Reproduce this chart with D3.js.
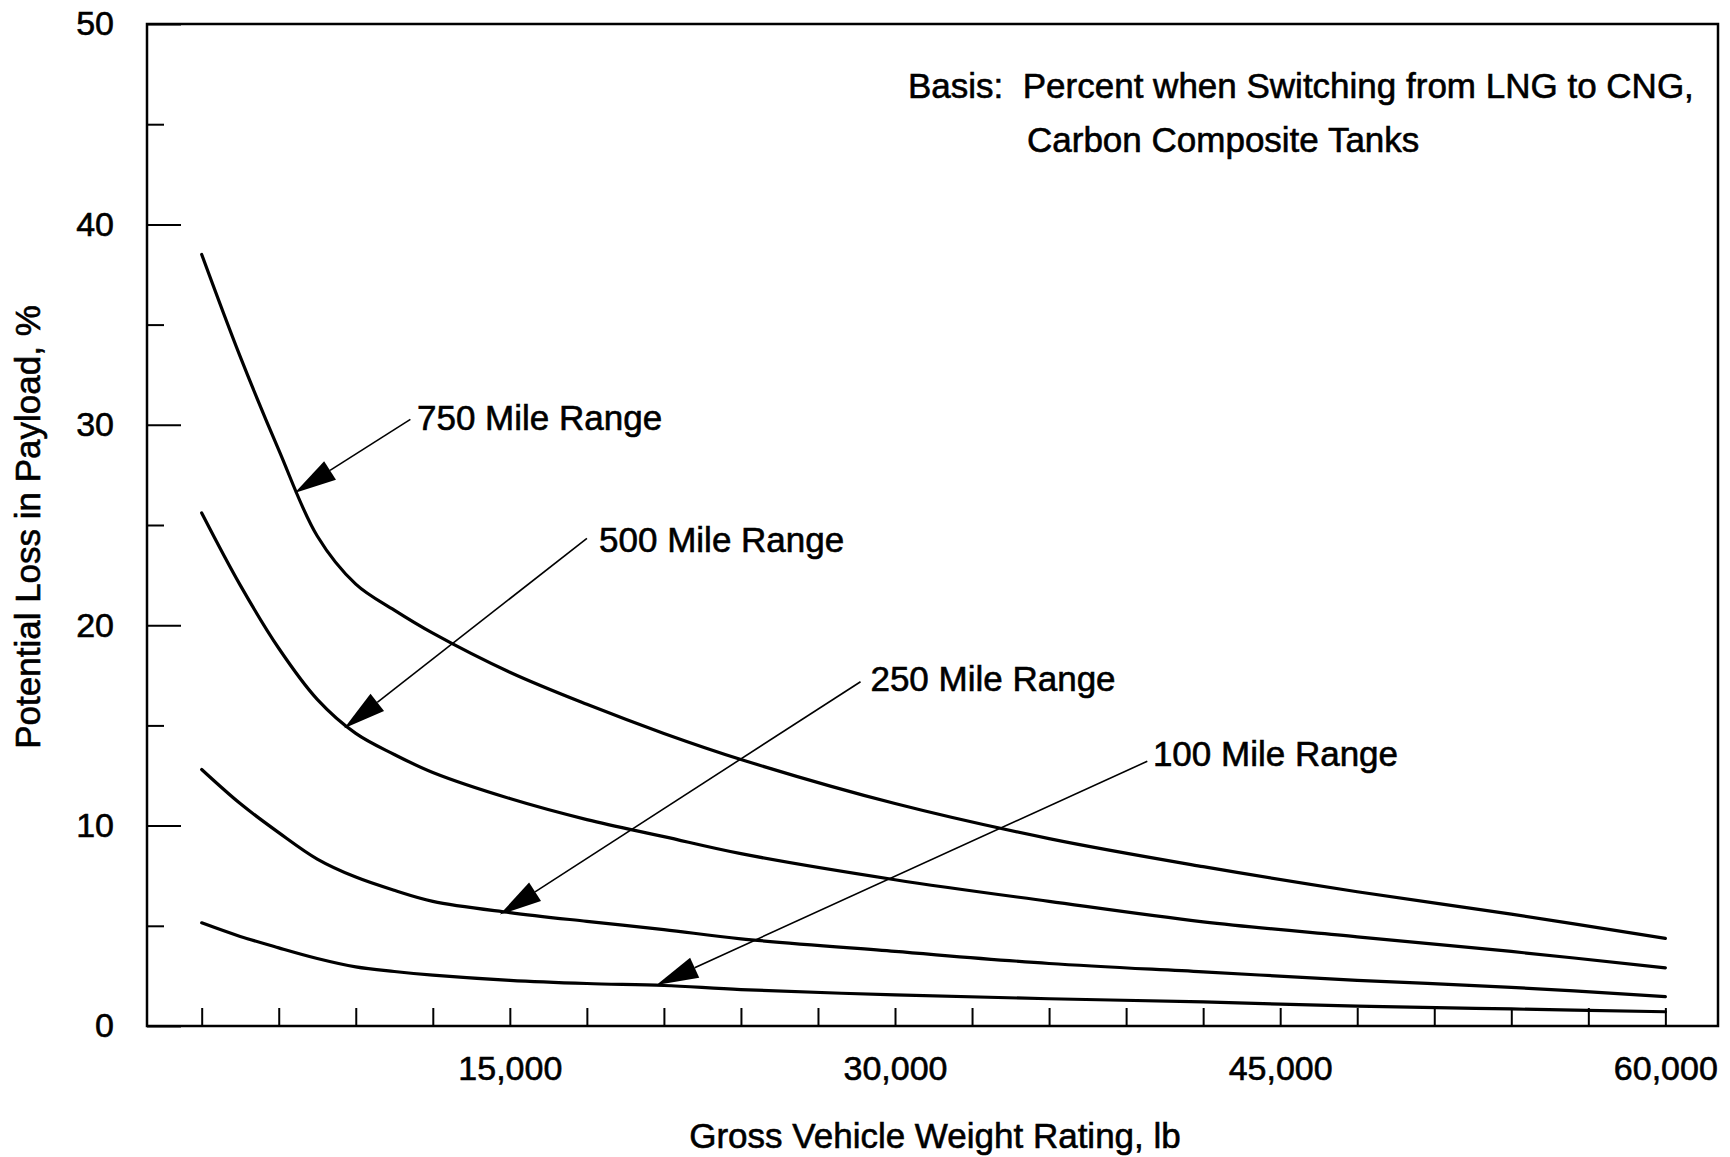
<!DOCTYPE html>
<html>
<head>
<meta charset="utf-8">
<script src="https://cdn.jsdelivr.net/npm/d3@7"></script>
<style>
  body { margin: 0; background: #fff; }
  text { font-family: "Liberation Sans", Arial, sans-serif; fill: #000; stroke: #000; stroke-width: 0.6px; white-space: pre; }
</style>
</head>
<body>
<svg id="chart" width="1730" height="1157"></svg>
<script>
// gross vehicle weight rating, lb
var gvwr = [3000, 4500, 6000, 7500, 9000, 10500, 12000, 15000, 18000, 21000, 24000, 30000, 36000, 42000, 48000, 54000, 60000];

// potential loss in payload, %
var range750 = [38.5, 33.4, 28.75, 24.45, 22.05, 20.75, 19.6, 17.65, 16.05, 14.6, 13.3, 11.1, 9.35, 7.95, 6.7, 5.58, 4.37];
var range500 = [25.6, 22.0, 18.85, 16.3, 14.6, 13.55, 12.65, 11.35, 10.3, 9.45, 8.6, 7.3, 6.22, 5.2, 4.45, 3.72, 2.9];
var range250 = [12.8, 11.1, 9.65, 8.33, 7.43, 6.77, 6.22, 5.66, 5.22, 4.81, 4.35, 3.72, 3.12, 2.7, 2.28, 1.93, 1.47];
var range100 = [5.15, 4.47, 3.9, 3.37, 2.95, 2.72, 2.54, 2.28, 2.12, 2.02, 1.82, 1.55, 1.36, 1.2, 0.99, 0.85, 0.71];
var series = [range750, range500, range250, range100];

// labels and their arrows (data units)
var labels = ["750 Mile Range", "500 Mile Range", "250 Mile Range", "100 Mile Range"];
var labelX = [11384, 18475, 29043, 40043];
var labelY = [30.33, 24.28, 17.34, 13.59];
var arrowX = [11127, 18002, 28657, 39824];
var arrowY = [30.27, 24.33, 17.18, 13.21];
var tipX = [6618, 8549, 14608, 20710];
var tipY = [26.6, 14.86, 5.56, 2.04];

var xMajor = [15000, 30000, 45000, 60000];
var xTicks = d3.range(3000, 60001, 3000);
var yMajor = [0, 10, 20, 30, 40, 50];
var yMinor = [5, 15, 25, 35, 45];

var basisLines = ["Basis:  Percent when Switching from LNG to CNG,", "Carbon Composite Tanks"];

var plotL = 147, plotR = 1718, plotT = 24, plotB = 1026;

var svg = d3.select('#chart');

var x = d3.scaleLinear().domain([870, 62050]).range([plotL, plotR]);
var y = d3.scaleLinear().domain([0, 50]).range([plotB, plotT]);

// y axis, ticks pointing inward
svg.append('g')
	.attr('transform', 'translate(' + plotL + ',0)')
	.call(d3.axisLeft(y).tickValues(yMajor).tickSize(-34).tickPadding(33).tickFormat(d3.format('d')));
svg.append('g')
	.attr('transform', 'translate(' + plotL + ',0)')
	.call(d3.axisLeft(y).tickValues(yMinor).tickSize(-17).tickFormat(''));

// x axis, ticks pointing up
svg.append('g')
	.attr('transform', 'translate(0,' + plotB + ')')
	.call(d3.axisBottom(x).tickValues(xTicks).tickSize(-18).tickPadding(30)
		.tickFormat(function(d) { return xMajor.indexOf(d) >= 0 ? d3.format(',')(d) : ''; }));

svg.selectAll('.domain').remove();
svg.selectAll('.tick line').attr('stroke', '#000').attr('stroke-width', 2);
svg.selectAll('.tick text').style('font-size', '34px').attr('fill', '#000');

// frame
svg.append('rect')
	.attr('x', plotL).attr('y', plotT)
	.attr('width', plotR - plotL).attr('height', plotB - plotT)
	.attr('fill', 'none').attr('stroke', '#000').attr('stroke-width', 2.5);

// curves
var line = d3.line()
	.x(function(d, i) { return x(gvwr[i]); })
	.y(function(d) { return y(d); })
	.curve(d3.curveCatmullRom.alpha(0.5));

svg.selectAll('.curve')
	.data(series)
	.enter()
	.append('path')
	.attr('class', 'curve')
	.attr('d', line)
	.attr('fill', 'none')
	.attr('stroke', '#000')
	.attr('stroke-width', 3.2)
	.attr('stroke-linecap', 'round');

// annotation arrows
labels.forEach(function(lab, i) {
	var x0 = x(arrowX[i]), y0 = y(arrowY[i]);
	var x1 = x(tipX[i]), y1 = y(tipY[i]);
	var ang = Math.atan2(y0 - y1, x0 - x1);
	var len = 42, half = 11;
	var bx = x1 + len * Math.cos(ang), by = y1 + len * Math.sin(ang);
	svg.append('line')
		.attr('x1', x0).attr('y1', y0)
		.attr('x2', bx).attr('y2', by)
		.attr('stroke', '#000').attr('stroke-width', 1.6);
	svg.append('path')
		.attr('d', 'M' + x1 + ',' + y1 +
			'L' + (bx - half * Math.sin(ang)) + ',' + (by + half * Math.cos(ang)) +
			'L' + (bx + half * Math.sin(ang)) + ',' + (by - half * Math.cos(ang)) + 'Z')
		.attr('fill', '#000');
	svg.append('text')
		.attr('x', x(labelX[i])).attr('y', y(labelY[i]))
		.attr('dy', '0.35em')
		.style('font-size', '35px')
		.text(lab);
});

// basis note
svg.append('text').attr('x', 908).attr('y', 98).style('font-size', '35px').text(basisLines[0]);
svg.append('text').attr('x', 1027).attr('y', 152).style('font-size', '35px').text(basisLines[1]);

// axis titles
svg.append('text')
	.attr('x', 935).attr('y', 1148)
	.attr('text-anchor', 'middle')
	.style('font-size', '35px')
	.text('Gross Vehicle Weight Rating, lb');

svg.append('text')
	.attr('transform', 'translate(28,527) rotate(-90)')
	.attr('dy', '0.35em')
	.attr('text-anchor', 'middle')
	.style('font-size', '35px')
	.text('Potential Loss in Payload, %');
</script>
</body>
</html>
